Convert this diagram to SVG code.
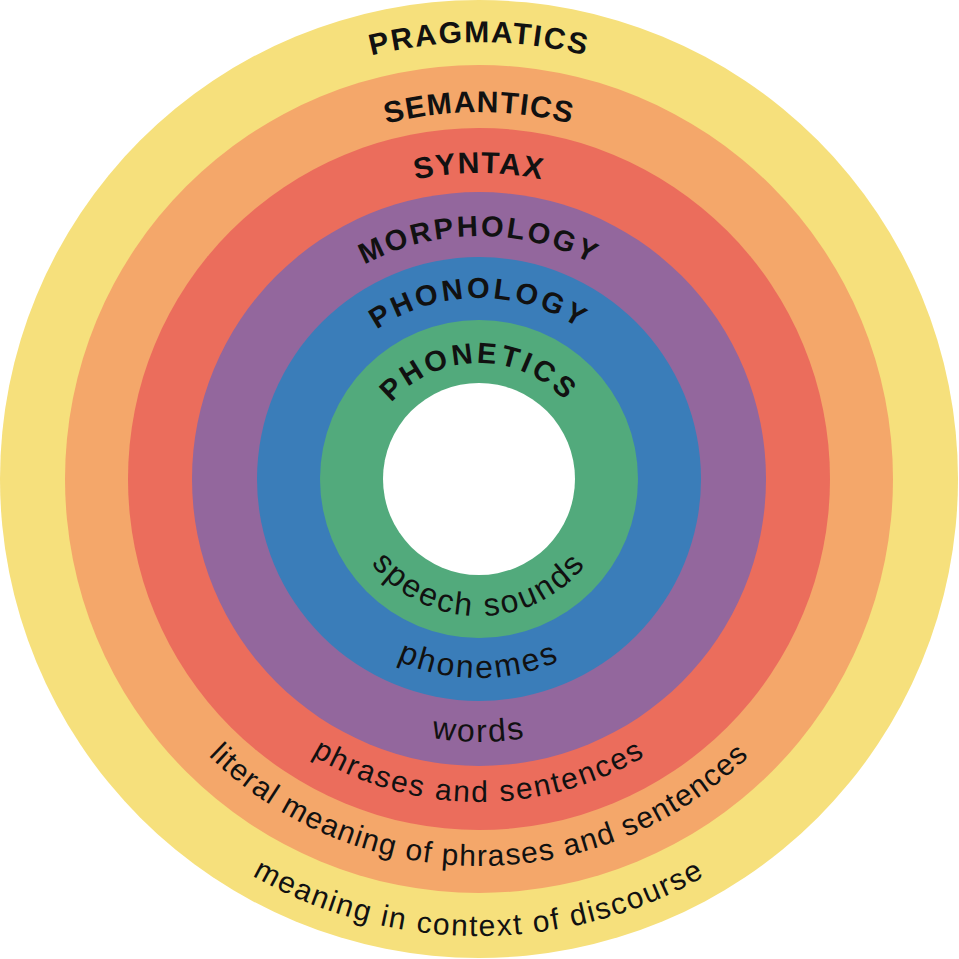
<svg xmlns="http://www.w3.org/2000/svg" width="959" height="959" viewBox="0 0 959 959">
<style>
.t{font-family:"Liberation Sans",Arial,sans-serif;font-weight:bold;fill:#111;}
.b{font-family:"Liberation Sans",Arial,sans-serif;fill:#111;}
</style>
<defs>
<path id="pT437" d="M42,479 A437,437 0 0 1 916,479"/>
<path id="pT367" d="M112,479 A367,367 0 0 1 846,479"/>
<path id="pT306" d="M173,479 A306,306 0 0 1 785,479"/>
<path id="pT243" d="M236,479 A243,243 0 0 1 722,479"/>
<path id="pT181" d="M298,479 A181,181 0 0 1 660,479"/>
<path id="pT116" d="M363,479 A116,116 0 0 1 595,479"/>
<path id="pB137" d="M342,479 A137,137 0 0 0 616,479"/>
<path id="pB199" d="M280,479 A199,199 0 0 0 678,479"/>
<path id="pB263" d="M216,479 A263,263 0 0 0 742,479"/>
<path id="pB323" d="M156,479 A323,323 0 0 0 802,479"/>
<path id="pB387" d="M92,479 A387,387 0 0 0 866,479"/>
<path id="pB457" d="M22,479 A457,457 0 0 0 936,479"/>
</defs>
<rect width="959" height="959" fill="#fff"/>
<g id="pragmatics">
<circle cx="479" cy="479" r="479" fill="#F6E07C"/>
</g>
<g id="semantics">
<circle cx="479" cy="479" r="414" fill="#F4A76A"/>
</g>
<g id="syntax">
<circle cx="479" cy="479" r="351" fill="#EB6D5C"/>
</g>
<g id="morphology">
<circle cx="479" cy="479" r="287" fill="#93679D"/>
</g>
<g id="phonology">
<circle cx="479" cy="479" r="222" fill="#3A7DB9"/>
</g>
<g id="phonetics">
<circle cx="479" cy="479" r="159" fill="#52AA7C"/>
<circle cx="479" cy="479" r="96" fill="#fff"/>
</g>
<g id="labels">
<text class="t" font-size="30" letter-spacing="1.8"><textPath href="#pT437" startOffset="50%" text-anchor="middle">PRAGMATICS</textPath></text>
<text class="t" font-size="30" letter-spacing="1.2"><textPath href="#pT367" startOffset="50%" text-anchor="middle">SEMANTICS</textPath></text>
<text class="t" font-size="30" letter-spacing="1.5"><textPath href="#pT306" startOffset="50%" text-anchor="middle">SYNTAX</textPath></text>
<text class="t" font-size="29" letter-spacing="2.6"><textPath href="#pT243" startOffset="50%" text-anchor="middle">MORPHOLOGY</textPath></text>
<text class="t" font-size="29" letter-spacing="3.2"><textPath href="#pT181" startOffset="50%" text-anchor="middle">PHONOLOGY</textPath></text>
<text class="t" font-size="29" letter-spacing="3.2"><textPath href="#pT116" startOffset="50%" text-anchor="middle">PHONETICS</textPath></text>
<text class="b" font-size="32" letter-spacing="2.5"><textPath href="#pB137" startOffset="50%" text-anchor="middle">speech sounds</textPath></text>
<text class="b" font-size="32" letter-spacing="2.5"><textPath href="#pB199" startOffset="50%" text-anchor="middle">phonemes</textPath></text>
<text class="b" font-size="32" letter-spacing="2"><textPath href="#pB263" startOffset="50%" text-anchor="middle">words</textPath></text>
<text class="b" font-size="30" letter-spacing="2"><textPath href="#pB323" startOffset="50%" text-anchor="middle">phrases and sentences</textPath></text>
<text class="b" font-size="30" letter-spacing="1.3"><textPath href="#pB387" startOffset="50%" text-anchor="middle">literal meaning of phrases and sentences</textPath></text>
<text class="b" font-size="30" letter-spacing="1.7"><textPath href="#pB457" startOffset="50%" text-anchor="middle">meaning in context of discourse</textPath></text>
</g>
</svg>
